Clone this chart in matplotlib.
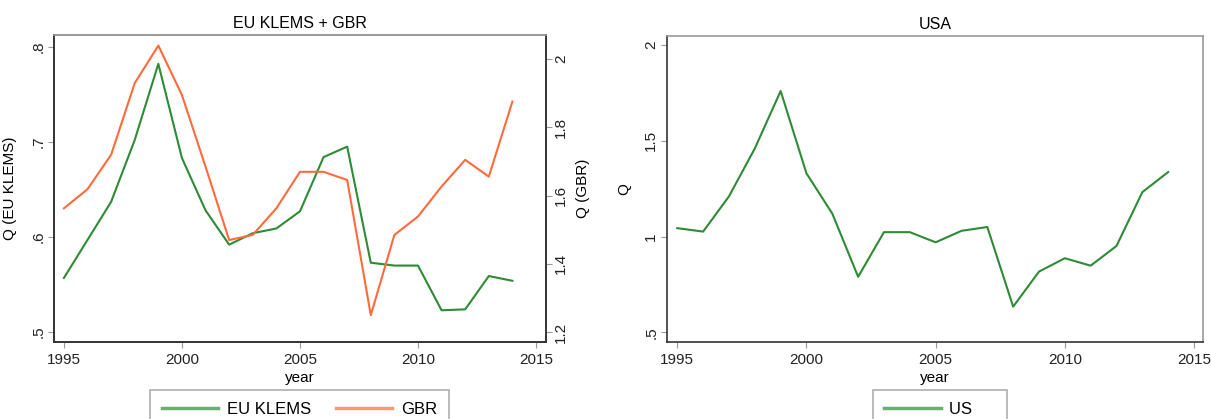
import matplotlib
matplotlib.use("Agg")
import matplotlib.pyplot as plt
from matplotlib.lines import Line2D
from matplotlib.ticker import FuncFormatter

plt.rcParams['font.family'] = ['Liberation Sans', 'DejaVu Sans']

years = list(range(1995, 2015))
eu_klems = [0.557, 0.597, 0.637, 0.702, 0.782, 0.683, 0.628, 0.592, 0.604, 0.609,
            0.627, 0.684, 0.695, 0.573, 0.570, 0.570, 0.523, 0.524, 0.559, 0.554]
gbr = [1.563, 1.619, 1.720, 1.930, 2.040, 1.895, 1.685, 1.470, 1.485, 1.563,
       1.670, 1.670, 1.646, 1.250, 1.485, 1.539, 1.627, 1.705, 1.656, 1.876]
us = [1.044, 1.026, 1.210, 1.460, 1.760, 1.330, 1.120, 0.790, 1.023, 1.023,
      0.970, 1.030, 1.050, 0.634, 0.817, 0.887, 0.848, 0.951, 1.232, 1.337]

x_ticks = [1995, 2000, 2005, 2010, 2015]
eu_ticks = [0.5, 0.6, 0.7, 0.8]
gbr_ticks = [1.2, 1.4, 1.6, 1.8, 2.0]
us_ticks = [0.5, 1.0, 1.5, 2.0]

GREEN = "#2e8b35"
ORANGE = "#ff6a3d"
DARK = "#333333"
LIGHT = "#9a9a9a"


def stata_fmt(v, pos=None):
    s = f"{v:g}"
    if s.startswith("0."):
        s = s[1:]
    return s


W, H = 1211, 419
fig = plt.figure(figsize=(W / 100, H / 100), dpi=100)

def style(ax, right_dark=False):
    ax.spines['top'].set_color(LIGHT)
    ax.spines['right'].set_color(DARK if right_dark else LIGHT)
    ax.spines['left'].set_color(DARK)
    ax.spines['bottom'].set_color(DARK)
    for s in ax.spines.values():
        s.set_linewidth(1.2)
    ax.tick_params(axis='both', length=4, width=0.8, color=LIGHT,
                   labelsize=11, pad=2, labelcolor="#222222")
    ax.tick_params(axis='x', pad=4)
    ax.set_xticks(x_ticks)
    ax.tick_params(axis='y', labelrotation=90)
    for lbl in ax.get_yticklabels():
        lbl.set_va('center')

# left panel
ax1 = fig.add_axes([54 / W, 1 - 341.7 / H, (545.7 - 54) / W, (341.7 - 35) / H])
ax1.plot(years, eu_klems, color=GREEN, lw=1.5)
ax1.set_xlim(1994.58, 2015.41)
ax1.set_ylim(0.490, 0.8123)
ax1.set_yticks(eu_ticks)
ax1.yaxis.set_major_formatter(FuncFormatter(stata_fmt))
style(ax1, right_dark=True)
for lbl in ax1.get_yticklabels():
    lbl.set_va('center')
ax1.set_title("EU KLEMS + GBR", fontsize=11.5, pad=5)
ax1.set_xlabel("year", fontsize=11)
ax1.xaxis.set_label_coords(0.5, -0.095)
ax1.set_ylabel("Q (EU KLEMS)", fontsize=11)
ax1.yaxis.set_label_coords(-0.075, 0.5)

ax2 = ax1.twinx()
ax2.plot(years, gbr, color=ORANGE, lw=1.5)
ax2.set_ylim(1.172, 2.071)
ax2.set_yticks(gbr_ticks)
ax2.yaxis.set_major_formatter(FuncFormatter(stata_fmt))
style(ax2, right_dark=True)
ax2.tick_params(axis='y', labelrotation=90)
for lbl in ax2.get_yticklabels():
    lbl.set_va('center')
ax2.set_ylabel("Q (GBR)", fontsize=11, rotation=90)
ax2.yaxis.set_label_coords(1.062, 0.5)

# right panel
ax3 = fig.add_axes([666.7 / W, 1 - 341.7 / H, (1203.3 - 666.7) / W, (341.7 - 35.7) / H])
ax3.plot(years, us, color=GREEN, lw=1.5)
ax3.set_xlim(1994.59, 2015.36)
ax3.set_ylim(0.451, 2.049)
ax3.set_yticks(us_ticks)
ax3.yaxis.set_major_formatter(FuncFormatter(stata_fmt))
style(ax3)
for lbl in ax3.get_yticklabels():
    lbl.set_va('center')
ax3.set_title("USA", fontsize=11.5, pad=5)
ax3.set_xlabel("year", fontsize=11)
ax3.xaxis.set_label_coords(0.5, -0.095)
ax3.set_ylabel("Q", fontsize=11)
ax3.yaxis.set_label_coords(-0.0665, 0.5)

# legends below the panels
h_eu = Line2D([], [], color=GREEN, lw=2.5, alpha=0.7)
h_gbr = Line2D([], [], color=ORANGE, lw=2.5, alpha=0.7)
h_us = Line2D([], [], color=GREEN, lw=2.5, alpha=0.7)
leg_kw = dict(loc='upper left', fontsize=12, frameon=True, fancybox=False,
              edgecolor=LIGHT, handlelength=3.4, handletextpad=0.5,
              columnspacing=1.5, borderpad=0.7, borderaxespad=0)
l1 = fig.legend([h_eu, h_gbr], ["EU KLEMS", "GBR"], ncol=2,
                bbox_to_anchor=(150 / W, 1 - 390 / H), **leg_kw)
l2 = fig.legend([h_us], ["US     "], ncol=1,
                bbox_to_anchor=(872.7 / W, 1 - 390 / H), **leg_kw)
for l in (l1, l2):
    l.get_frame().set_linewidth(1.2)

fig.savefig("out.png", dpi=100)
